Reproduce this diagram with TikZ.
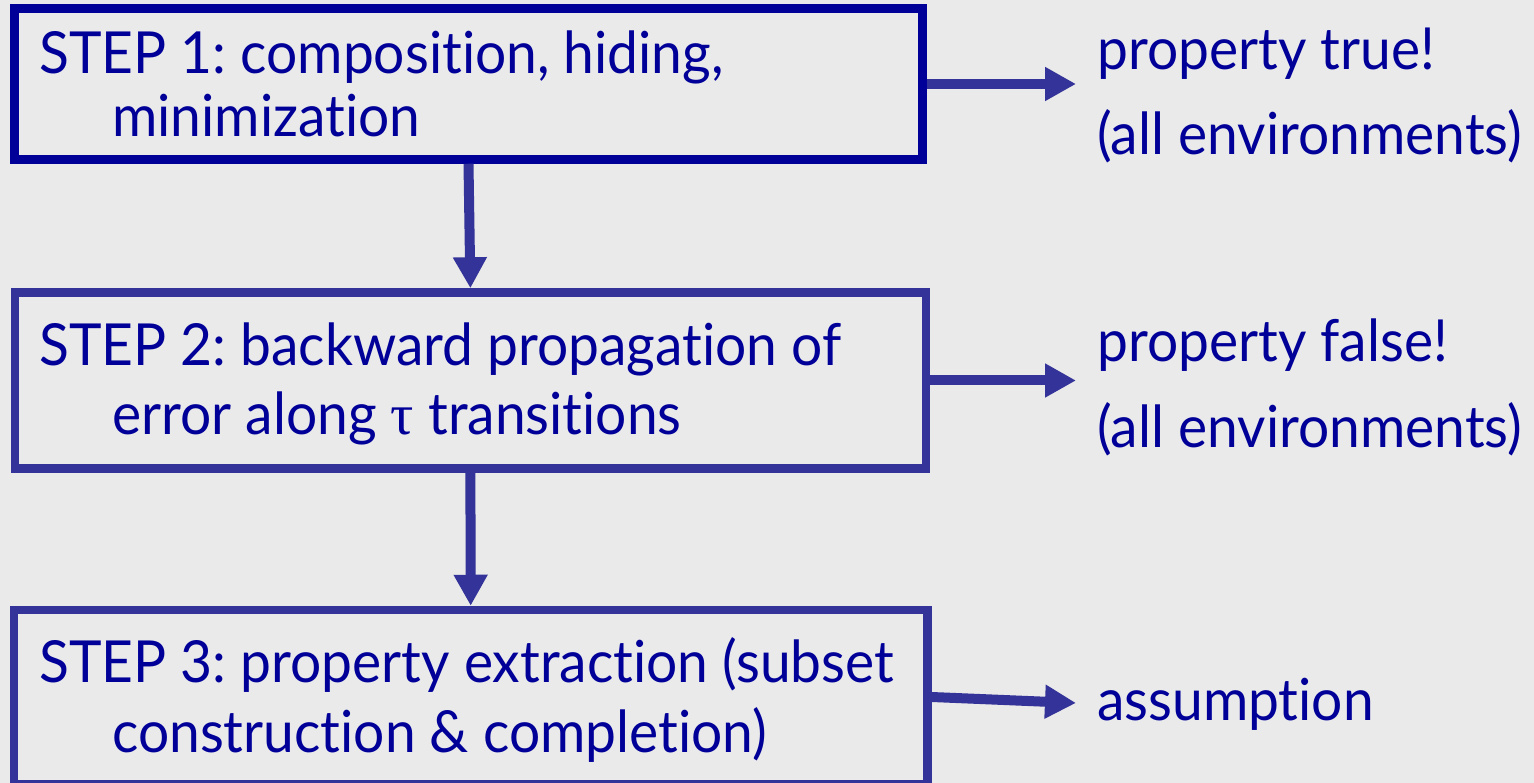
\documentclass[tikz,border=0pt]{standalone}
\usepackage{fontspec}
\setmainfont[Ligatures={NoCommon},FakeStretch=0.95]{Lato}
\newfontfamily\greekfont{Liberation Serif}
\frenchspacing
\usetikzlibrary{arrows.meta}
\definecolor{bg}{HTML}{EAEAEA}
\definecolor{navy}{HTML}{000099}
\definecolor{slate}{HTML}{333399}
\begin{document}
\begin{tikzpicture}[x=1pt,y=-1pt,
  stepbox/.style={draw=slate,line width=8.5pt,inner sep=0pt,fill=none},
  txt/.style={text=navy,inner sep=0pt,anchor=base west,font=\fontsize{58}{70}\selectfont},
  flow/.style={draw=slate,line width=10pt,-{Triangle[length=31pt,width=32pt]}}]
  \fill[bg] (0,0) rectangle (1534,783);
  \useasboundingbox (0,0) rectangle (1534,783);

  % the three steps
  \node[stepbox,draw=navy,minimum width=908pt,minimum height=151pt] (s1) at (468.5,84) {};
  \node[stepbox,minimum width=911.3pt,minimum height=176pt] (s2) at (470.4,380.5) {};
  \node[stepbox,minimum width=913.5pt,minimum height=174pt] (s3) at (470.7,697) {};

  \node[txt] (t1a) at (39,74) {STEP 1: composition, hiding,};
  \node[txt] (t1b) at (112,137) {minimization};
  \node[txt] (t2a) at (39,366) {STEP 2: backward propagation of};
  \node[txt] (t2b) at (112,435) {error along {\greekfont τ} transitions};
  \node[txt] (t3a) at (39,682) {STEP 3: property extraction (subset};
  \node[txt] (t3b) at (112,752) {construction \& completion)};

  % outcomes
  \node[txt] (r1a) at (1097,70) {property true!};
  \node[txt] (r1b) at (1097,155) {(all environments)};
  \node[txt] (r2a) at (1097,362) {property false!};
  \node[txt] (r2b) at (1097,447) {(all environments)};
  \node[txt] (r3) at (1097,720) {assumption};

  \coordinate (e1) at (1076,84);
  \coordinate (e2) at (1076,380.5);
  \coordinate (e3) at (1076,703);

  \draw[flow] (s1.south) -- (s2.north);
  \draw[flow] (s2.south) -- (s3.north);
  \draw[flow] (s1.east) -- (e1);
  \draw[flow] (s2.east) -- (e2);
  \draw[flow] (s3.east) -- (e3);
\end{tikzpicture}
\end{document}
